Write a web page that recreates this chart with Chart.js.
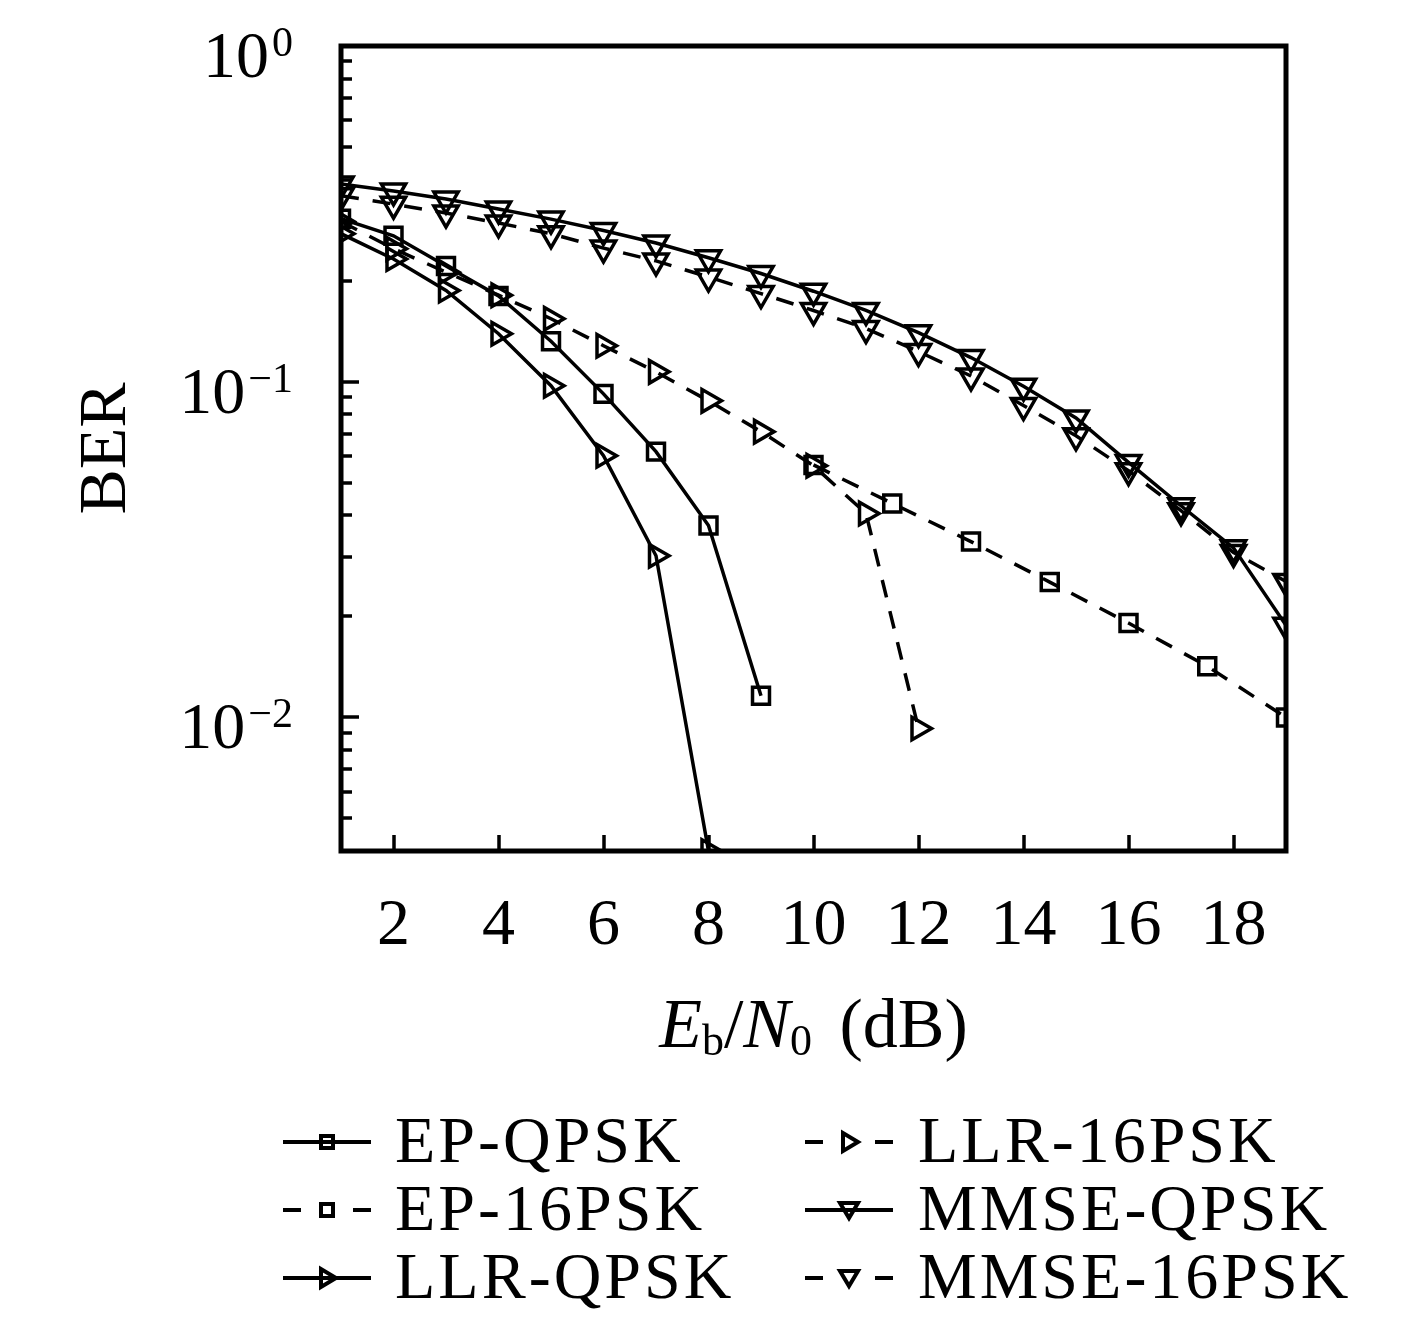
<!DOCTYPE html>
<html>
<head>
<meta charset="utf-8">
<title>BER vs Eb/N0</title>
<script src="https://cdn.jsdelivr.net/npm/chart.js@4.4.1/dist/chart.umd.min.js"></script>
<style>
  html, body { margin: 0; padding: 0; background: #fff; }
  #wrap { position: relative; width: 1417px; height: 1317px; font-family: "Liberation Serif", serif; color: #000; }
  #wrap canvas { position: absolute; left: 0; top: 0; }
  #xtitle { position: absolute; left: 341px; width: 945px; top: 984px; text-align: center; font-size: 70px; line-height: 80px; white-space: nowrap; }
  #xtitle .sub { font-size: 44px; position: relative; top: 8px; }
  #xtitle .gap { margin-left: 10px; }
  .lg-text { position: absolute; font-size: 66px; line-height: 76px; letter-spacing: 3px; white-space: nowrap; }
  .lg-key { position: absolute; }
</style>
</head>
<body>
<div id="wrap">
  <canvas id="chart" width="1417" height="1317"></canvas>
  <div id="xtitle"><i>E</i><span class="sub">b</span>/<i>N</i><span class="sub">0</span><span class="gap"> (dB)</span></div>
  <div id="legend"></div>
</div>
<script>
// Eb/N0 values (dB)
var SNR = [1, 2, 3, 4, 5, 6, 7, 8, 9, 10, 11, 12, 13, 14, 15, 16, 17, 18, 19];
var SNR_EP_16PSK = [10, 11.5, 13, 14.5, 16, 17.5, 19];

// BER (each list starts at the first SNR of its grid)
var BER_EP_QPSK = [0.306, 0.272, 0.221, 0.180, 0.132, 0.092, 0.0619, 0.0373, 0.0116];
var BER_EP_16PSK = [0.0565, 0.0434, 0.0334, 0.0253, 0.0191, 0.0142, 0.0100];
var BER_LLR_QPSK = [0.276, 0.232, 0.187, 0.139, 0.0973, 0.0602, 0.0303, 0.0040];
var BER_LLR_16PSK = [0.300, 0.249, 0.212, 0.181, 0.154, 0.128, 0.107, 0.0877, 0.0710, 0.0562, 0.0405, 0.00927];
var BER_MMSE_QPSK = [0.388, 0.370, 0.350, 0.327, 0.305, 0.282, 0.259, 0.234, 0.210, 0.186,
                     0.163, 0.140, 0.118, 0.0970, 0.0780, 0.0575, 0.0427, 0.0320, 0.0188];
var BER_MMSE_16PSK = [0.358, 0.338, 0.318, 0.297, 0.276, 0.250, 0.229, 0.205, 0.183, 0.163,
                      0.144, 0.123, 0.104, 0.0849, 0.0690, 0.0543, 0.0413, 0.0310, 0.0254];

var LABELS = ['EP-QPSK', 'EP-16PSK', 'LLR-QPSK', 'LLR-16PSK', 'MMSE-QPSK', 'MMSE-16PSK'];
var DASHED = [false, true, false, true, false, true];
var MARKERS = ['square', 'square', 'right', 'right', 'down', 'down'];

// axes
var X_MIN = 1, X_MAX = 19;
var X_TICKS = [2, 4, 6, 8, 10, 12, 14, 16, 18];
var Y_MIN = 0.004, Y_MAX = 1;
var Y_DECADES = [1, 0.1, 0.01];
var Y_EXPONENTS = ['0', '\u22121', '\u22122'];

var FONT = '"Liberation Serif", serif';
var LINE_W = 3.5;

function pts(xs, ys) {
  return ys.map(function (v, i) { return { x: xs[i], y: v }; });
}

var SERIES = [
  pts(SNR, BER_EP_QPSK),
  pts(SNR_EP_16PSK, BER_EP_16PSK),
  pts(SNR, BER_LLR_QPSK),
  pts(SNR, BER_LLR_16PSK),
  pts(SNR, BER_MMSE_QPSK),
  pts(SNR, BER_MMSE_16PSK)
];

var MARKER_STYLE = {
  square: { pointStyle: 'rect', rotation: 0, radius: 12 },
  right: { pointStyle: 'triangle', rotation: 90, radius: 13 },
  down: { pointStyle: 'triangle', rotation: 180, radius: 14 }
};

var datasets = SERIES.map(function (data, i) {
  var m = MARKER_STYLE[MARKERS[i]];
  return {
    label: LABELS[i],
    data: data,
    borderColor: '#000',
    borderWidth: LINE_W,
    borderDash: DASHED[i] ? [18, 14] : [],
    pointStyle: m.pointStyle,
    pointRotation: m.rotation,
    pointRadius: m.radius,
    pointBorderWidth: LINE_W,
    pointBorderColor: '#000',
    pointBackgroundColor: 'rgba(0,0,0,0)',
    tension: 0,
    clip: 0
  };
});

// inward ticks, box and 10^n labels
var axesFrame = {
  id: 'axesFrame',
  afterDatasetsDraw: function (chart) {
    var ctx = chart.ctx, a = chart.chartArea, x = chart.scales.x, y = chart.scales.y;
    ctx.save();
    ctx.strokeStyle = '#000';
    ctx.lineWidth = 3.5;
    ctx.beginPath();
    X_TICKS.forEach(function (v) {
      var px = Math.round(x.getPixelForValue(v));
      ctx.moveTo(px, a.bottom);
      ctx.lineTo(px, a.bottom - 16);
    });
    for (var e = -3; e <= 0; e++) {
      for (var m = 1; m <= 9; m++) {
        var v = m * Math.pow(10, e);
        if (v < Y_MIN * 1.001 || v > Y_MAX * 1.001) { continue; }
        var py = Math.round(y.getPixelForValue(v));
        ctx.moveTo(a.left, py);
        ctx.lineTo(a.left + (m === 1 ? 18 : 11), py);
      }
    }
    ctx.stroke();
    ctx.lineWidth = 5;
    ctx.strokeRect(a.left, a.top, a.right - a.left, a.bottom - a.top);

    ctx.fillStyle = '#000';
    ctx.textAlign = 'right';
    ctx.textBaseline = 'alphabetic';
    Y_DECADES.forEach(function (v, i) {
      var py = y.getPixelForValue(v);
      var right = a.left - 48;
      ctx.font = '42px ' + FONT;
      var supW = ctx.measureText(Y_EXPONENTS[i]).width;
      ctx.fillText(Y_EXPONENTS[i], right, py + 10);
      ctx.font = '66px ' + FONT;
      ctx.fillText('10', right - supW - 3, py + 31);
    });
    ctx.restore();
  }
};

new Chart(document.getElementById('chart'), {
  type: 'line',
  data: { datasets: datasets },
  plugins: [axesFrame],
  options: {
    responsive: false,
    animation: false,
    devicePixelRatio: 1,
    layout: { padding: { top: 46, right: 131, left: 0, bottom: 0 } },
    plugins: { legend: { display: false }, tooltip: { enabled: false } },
    scales: {
      x: {
        type: 'linear',
        min: X_MIN,
        max: X_MAX,
        grid: { display: false },
        border: { display: false },
        afterBuildTicks: function (scale) {
          scale.ticks = X_TICKS.map(function (v) { return { value: v }; });
        },
        afterFit: function (scale) { scale.height = 466; },
        ticks: {
          color: '#000',
          padding: 28,
          maxRotation: 0,
          font: { family: FONT, size: 66 }
        }
      },
      y: {
        type: 'logarithmic',
        min: Y_MIN,
        max: Y_MAX,
        grid: { display: false },
        border: { display: false },
        ticks: { display: false },
        afterFit: function (scale) { scale.width = 341; },
        title: {
          display: true,
          text: 'BER',
          color: '#000',
          font: { family: FONT, size: 68 },
          padding: { top: 66, bottom: 0 }
        }
      }
    }
  }
});

// legend: two columns of three rows
var LEGEND_KEY_X = [283, 805];
var LEGEND_TEXT_X = [395, 918];
var LEGEND_ROW_BASE = [1162, 1230, 1298];

function keySvg(marker, dashed) {
  var line = dashed
    ? '<line x1="0" y1="15" x2="18" y2="15"/><line x1="70" y1="15" x2="88" y2="15"/>'
    : '<line x1="0" y1="15" x2="88" y2="15"/>';
  var shape;
  if (marker === 'square') {
    shape = '<rect x="38" y="9" width="12" height="12"/>';
  } else if (marker === 'right') {
    shape = '<polygon points="38,6 38,24 53,15"/>';
  } else {
    shape = '<polygon points="35,8 53,8 44,23"/>';
  }
  return '<svg width="88" height="30" xmlns="http://www.w3.org/2000/svg">' +
    '<g stroke="#000" stroke-width="4" fill="none">' + line + shape + '</g></svg>';
}

var legend = document.getElementById('legend');
LABELS.forEach(function (label, i) {
  var col = Math.floor(i / 3), row = i % 3;
  var base = LEGEND_ROW_BASE[row];
  var key = document.createElement('div');
  key.className = 'lg-key';
  key.style.left = LEGEND_KEY_X[col] + 'px';
  key.style.top = (base - 20 - 15) + 'px';
  key.innerHTML = keySvg(MARKERS[i], DASHED[i]);
  legend.appendChild(key);
  var txt = document.createElement('div');
  txt.className = 'lg-text';
  txt.style.left = LEGEND_TEXT_X[col] + 'px';
  txt.style.top = (base - 60) + 'px';
  txt.textContent = label;
  legend.appendChild(txt);
});
</script>
</body>
</html>
